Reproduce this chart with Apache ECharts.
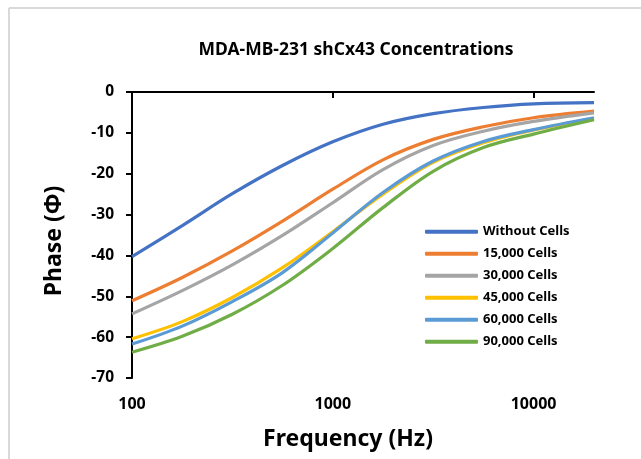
<!DOCTYPE html>
<html>
<head>
<meta charset="utf-8">
<script src="https://cdn.jsdelivr.net/npm/echarts@6/dist/echarts.min.js"></script>
<style>
html,body{margin:0;padding:0;background:#fff;}
#chart{width:641px;height:459px;}
</style>
</head>
<body>
<div id="chart"></div>
<script>
// Frequencies (Hz)
const frequencies = [100, 178, 316, 562, 1000, 1778, 3162, 5623, 10000, 20000];
// Phase values (degrees)
const withoutCells = [-40.3, -32.7, -24.9, -18.0, -12.2, -7.9, -5.3, -3.8, -2.9, -2.6];
const cells15000   = [-51.1, -45.4, -38.9, -31.6, -23.8, -16.6, -11.6, -8.5, -6.3, -4.7];
const cells30000   = [-54.3, -48.6, -42.3, -35.1, -27.1, -19.0, -13.1, -9.6, -7.2, -5.1];
const cells45000   = [-60.4, -56.2, -50.3, -43.0, -34.2, -25.0, -17.2, -12.4, -9.3, -6.5];
const cells60000   = [-61.7, -57.3, -51.3, -44.2, -34.5, -24.6, -16.9, -12.1, -9.2, -6.3];
const cells90000   = [-63.7, -59.8, -54.4, -47.3, -38.3, -28.3, -19.4, -13.6, -10.3, -6.8];
const seriesNames = ['Without Cells', '15,000 Cells', '30,000 Cells', '45,000 Cells', '60,000 Cells', '90,000 Cells'];
const seriesColors = ['#4472C4', '#ED7D31', '#A5A5A5', '#FFC000', '#5B9BD5', '#70AD47'];
const xTickValues = [100, 1000, 10000];
const yTicks = { min: -70, max: 0, interval: 10 };

const allValues = [withoutCells, cells15000, cells30000, cells45000, cells60000, cells90000];
const font = '"Noto Sans", "Open Sans", sans-serif';

const chart = echarts.init(document.getElementById('chart'), null, { renderer: 'canvas' });
const series = allValues.map((vals, i) => ({
  name: seriesNames[i],
  type: 'line',
  data: frequencies.map((f, j) => [f, vals[j]]),
  smooth: 0.35,
  showSymbol: false,
  symbol: 'none',
  lineStyle: { color: seriesColors[i], width: 3.2 },
  itemStyle: { color: seriesColors[i] },
  z: 2 + i
}));

chart.setOption({
  animation: false,
  backgroundColor: '#fff',
  title: {
    text: 'MDA-MB-231 shCx43 Concentrations',
    left: 351, top: 36, textAlign: 'center',
    textStyle: { fontFamily: font, fontWeight: 'bold', fontSize: 17.5, color: '#000' }
  },
  graphic: [
    { type: 'line', shape: { x1: 9, y1: 8, x2: 641, y2: 8 }, style: { stroke: '#d9d9d9', lineWidth: 2 } },
    { type: 'line', shape: { x1: 9, y1: 8, x2: 9, y2: 459 }, style: { stroke: '#d9d9d9', lineWidth: 2 } }
  ],
  legend: {
    orient: 'vertical',
    left: 420, top: 217.5,
    itemWidth: 53, itemHeight: 4, itemGap: 3.5,
    icon: 'roundRect',
    textStyle: { fontFamily: font, fontWeight: 'bold', fontSize: 13, color: '#000', lineHeight: 18.5 },
    data: seriesNames
  },
  grid: { left: 132, top: 92, width: 462, height: 286, containLabel: false },
  xAxis: {
    type: 'log', logBase: 10, min: 100, max: 20000,
    name: 'Frequency (Hz)', nameLocation: 'middle', nameGap: 50,
    nameTextStyle: { fontFamily: font, fontWeight: 'bold', fontSize: 23, color: '#000', padding: [0, 30, 0, 0] },
    axisLine: { lineStyle: { color: '#000', width: 2 } },
    axisTick: { show: true, length: 6, lineStyle: { color: '#000', width: 2 }, customValues: xTickValues },
    axisLabel: { margin: 18, fontFamily: font, fontWeight: 'bold', fontSize: 16, color: '#000', customValues: xTickValues,
      formatter: v => String(Math.round(v)) },
    splitLine: { show: false },
    minorTick: { show: false }
  },
  yAxis: {
    type: 'value', min: yTicks.min, max: yTicks.max, interval: yTicks.interval,
    name: 'Phase (Φ)', nameLocation: 'middle', nameGap: 66,
    nameTextStyle: { fontFamily: font, fontWeight: 'bold', fontSize: 23, color: '#000', padding: [0, 12, 0, 0] },
    axisLine: { show: true, lineStyle: { color: '#000', width: 2 } },
    axisTick: { show: true, length: 6, lineStyle: { color: '#000', width: 2 } },
    axisLabel: { margin: 18, fontFamily: font, fontWeight: 'bold', fontSize: 15.5, color: '#000' },
    splitLine: { show: false }
  },
  series: series
});
</script>
</body>
</html>
